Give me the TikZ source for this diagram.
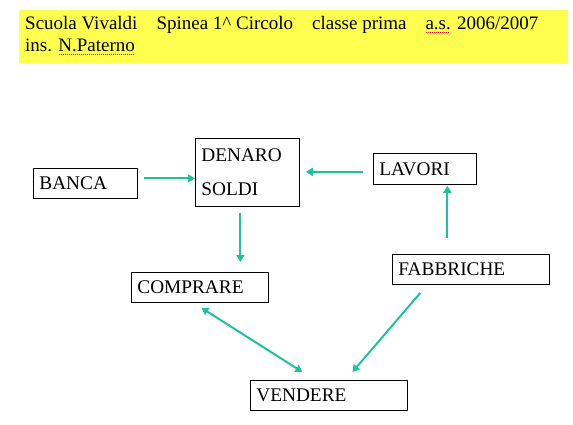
\documentclass[tikz,border=0pt]{standalone}
\usepackage{fontspec}
\setmainfont{Liberation Serif}
\usetikzlibrary{arrows.meta}
\definecolor{teal2}{RGB}{30,195,155}
\definecolor{band}{RGB}{255,255,80}
\newcommand\spellmark[1]{\setbox0\hbox{#1}\rlap{\raisebox{-3pt}{\color{red}\hbox to \wd0{\leaders\hbox to 2pt{\hss\rule{1pt}{0.8pt}\hss}\hfill}}}#1}
\begin{document}
\begin{tikzpicture}[x=1pt,y=-1pt,
  box/.style={draw, line width=0.8pt, inner xsep=6pt, inner ysep=0pt, anchor=north west, align=left,
              font=\fontsize{19.3}{21}\selectfont},
  conn/.style={draw=teal2, line width=2pt, -{Triangle[length=7pt,width=8pt]}},
  conn2/.style={draw=teal2, line width=2pt, {Triangle[length=7pt,width=8pt]}-{Triangle[length=7pt,width=8pt]}}]
\useasboundingbox (0,0) rectangle (573,424);
\fill[band] (19,10) rectangle (568,63);
\node[anchor=north west, align=left, font=\fontsize{19}{22}\selectfont, inner sep=0] (title) at (25,16)
  {Scuola Vivaldi\quad Spinea 1\^{} Circolo\quad classe prima\quad \spellmark{a.s.} 2006/2007\\ins. \spellmark{N.Paterno}};
\node[box, text width=92pt, minimum height=30pt] (banca) at (33,168) {BANCA};
\node[box, text width=92pt, minimum height=68pt, font=\fontsize{19.3}{34}\selectfont] (denaro) at (195,138) {DENARO\\SOLDI};
\node[box, text width=91pt, minimum height=31pt] (lavori) at (373,153) {LAVORI};
\node[box, text width=145pt, minimum height=30pt] (fabbriche) at (392,254) {FABBRICHE};
\node[box, text width=125pt, minimum height=30pt] (comprare) at (131,272) {COMPRARE};
\node[box, text width=145pt, minimum height=30pt] (vendere) at (250,380) {VENDERE};
\draw[conn, shorten <=6pt] ([yshift=5pt]banca.east) -- ([yshift=5pt]banca.east -| denaro.west);
\draw[conn, shorten <=10pt, shorten >=6pt] ([yshift=-3pt]lavori.west) -- ([yshift=-3pt]lavori.west -| denaro.east);
\draw[conn, shorten <=6pt, shorten >=10pt] ([xshift=-7pt]denaro.south) -- ([xshift=-7pt]denaro.south |- comprare.north);
\draw[conn, shorten <=16pt, shorten >=1pt] ([xshift=22.5pt]lavori.south |- fabbriche.north) -- ([xshift=22.5pt]lavori.south);
\draw[conn2] ([xshift=1.5pt,yshift=-5pt]comprare.south) -- ([xshift=-26.5pt,yshift=8pt]vendere.north);
\draw[conn] ([xshift=-50.5pt,yshift=-8pt]fabbriche.south) -- ([xshift=23.5pt,yshift=8pt]vendere.north);
\end{tikzpicture}
\end{document}
